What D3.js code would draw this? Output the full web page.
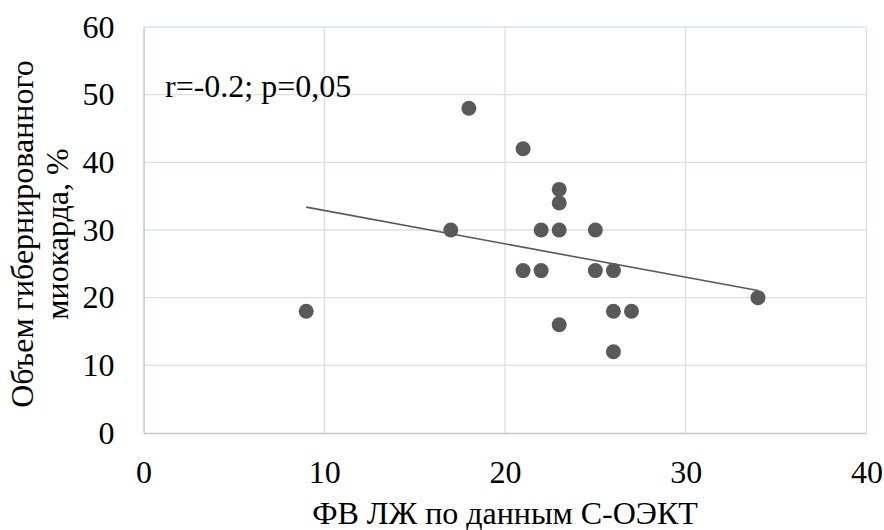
<!DOCTYPE html>
<html><head><meta charset="utf-8">
<script src="https://cdn.jsdelivr.net/npm/d3@7"></script>
<style>body{margin:0;background:#fff}svg{display:block}</style>
</head><body>
<script>
const xValues = [9,17,18,21,21,22,22,23,23,23,23,25,25,26,26,26,27,34];
const yValues = [18,30,48,42,24,30,24,36,34,30,16,30,24,24,18,12,18,20];
const xTicks = [0,10,20,30,40];
const yTicks = [0,10,20,30,40,50,60];
const xTitle = "ФВ ЛЖ по данным С-ОЭКТ";
const yTitleLines = ["Объем гибернированного","миокарда, %"];
const annotation = "r=-0.2; p=0,05";

const FONT="'Liberation Serif'";
const fs="32px";
const W=884,H=530;
const svg=d3.select("body").append("svg").attr("width",W).attr("height",H);
const x=d3.scaleLinear().domain([0,40]).range([143.6,866.4]);
const y=d3.scaleLinear().domain([0,60]).range([433,27]);
const gridColor="#dadfe8";

// grid
svg.append("g").selectAll("line").data(xTicks.slice(1)).join("line")
  .attr("x1",d=>x(d)).attr("x2",d=>x(d)).attr("y1",y(0)).attr("y2",y(60))
  .attr("stroke",gridColor).attr("stroke-width",1.3);
svg.append("g").selectAll("line").data(yTicks.slice(1)).join("line")
  .attr("x1",x(0)).attr("x2",x(40)).attr("y1",d=>y(d)).attr("y2",d=>y(d))
  .attr("stroke",gridColor).attr("stroke-width",1.3);

// axes
const xa=svg.append("g").attr("transform",`translate(0,${y(0)})`)
  .call(d3.axisBottom(x).tickValues(xTicks).tickSize(0).tickPadding(27));
xa.attr("font-family",null).attr("font-size",null);
xa.select(".domain").attr("stroke","#c3cad7").attr("stroke-width",1.5);
xa.selectAll("text").style("font-family",FONT).style("font-size",fs).attr("fill","#000");
const ya=svg.append("g").attr("transform",`translate(${x(0)},0)`)
  .call(d3.axisLeft(y).tickValues(yTicks).tickSize(0).tickPadding(29));
ya.attr("font-family",null).attr("font-size",null);
ya.select(".domain").attr("stroke","#c3cad7").attr("stroke-width",1.5);
ya.selectAll("text").style("font-family",FONT).style("font-size",fs).attr("fill","#000");

// regression trendline
const n=xValues.length, mx=d3.mean(xValues), my=d3.mean(yValues);
let sxy=0,sxx=0;
for(let i=0;i<n;i++){sxy+=(xValues[i]-mx)*(yValues[i]-my);sxx+=(xValues[i]-mx)**2;}
const b=sxy/sxx, a=my-b*mx;
const [x0,x1]=d3.extent(xValues);
svg.append("line").attr("x1",x(x0)).attr("y1",y(a+b*x0)).attr("x2",x(x1)).attr("y2",y(a+b*x1))
  .attr("stroke","#595959").attr("stroke-width",1.6);

// points
svg.append("g").selectAll("circle").data(xValues.map((v,i)=>[v,yValues[i]])).join("circle")
  .attr("cx",d=>x(d[0])).attr("cy",d=>y(d[1])).attr("r",7.5).attr("fill","#595959");

// annotation
svg.append("text").attr("x",165).attr("y",97).style("font-family",FONT).style("font-size",fs).text(annotation);

// titles
svg.append("text").attr("x",(x(0)+x(40))/2).attr("y",524).attr("text-anchor","middle")
  .style("font-family",FONT).style("font-size",fs).text(xTitle);
const yt=svg.append("g").attr("transform","rotate(-90)");
yTitleLines.forEach((t,i)=>yt.append("text").attr("x",-234).attr("y",33+i*35)
  .attr("text-anchor","middle").style("font-family",FONT).style("font-size",fs).text(t));
</script>
</body></html>
